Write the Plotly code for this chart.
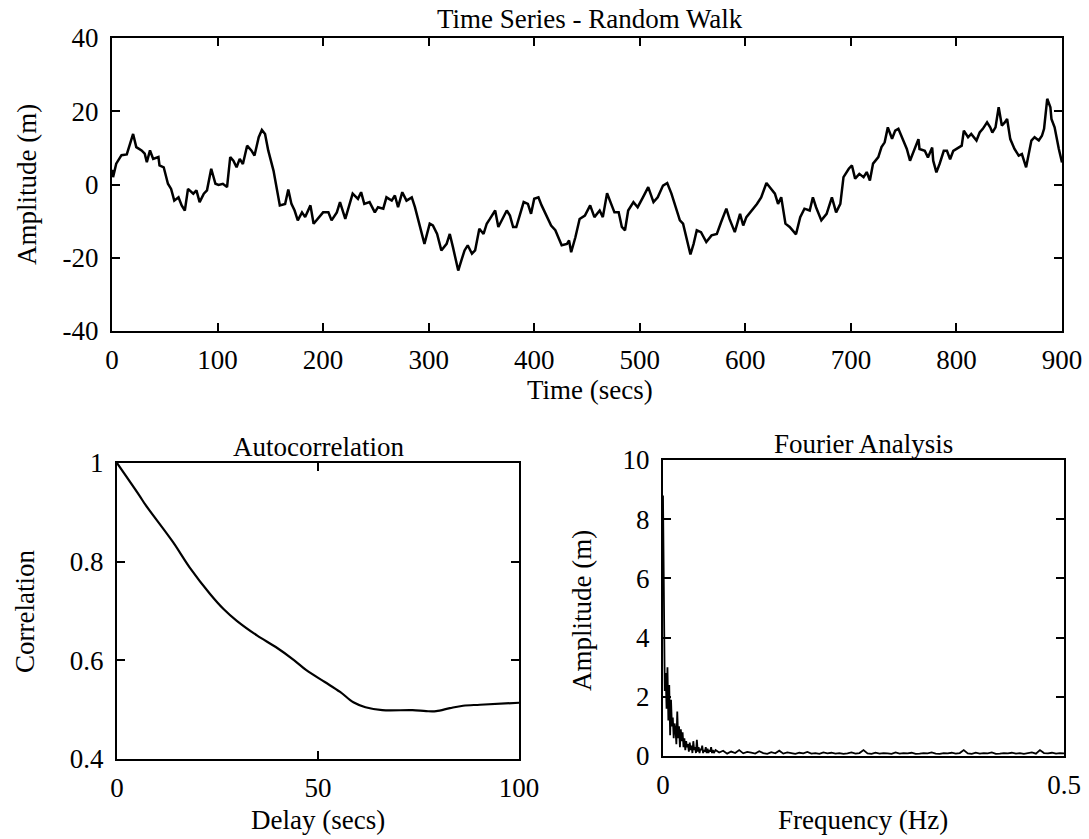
import plotly.graph_objects as go

# ---------------- data ----------------
ts_time = [0, 1, 4, 9, 14, 19, 20, 23, 28, 31, 33, 36, 39, 44, 45, 49, 53, 56, 59, 63, 66, 69, 72, 77, 80, 83, 87, 90, 94, 98,
           101, 105, 109, 112, 115, 118, 121, 124, 128, 132, 135, 139, 142, 145, 148, 153, 156, 159, 164, 167, 170, 173, 176, 180,
           183, 188, 191, 195, 200, 205, 208, 213, 216, 221, 224, 228, 233, 236, 239, 244, 249, 252, 257, 260, 265, 268, 271, 275,
           279, 284, 287, 290, 296, 301, 304, 308, 312, 317, 320, 323, 328, 331, 334, 337, 341, 344, 348, 352, 355, 358, 363, 366,
           369, 374, 377, 380, 383, 386, 390, 394, 397, 400, 404, 407, 412, 416, 420, 423, 426, 431, 433, 435, 439, 443, 448, 453,
           457, 462, 465, 469, 473, 476, 480, 483, 486, 489, 494, 498, 503, 508, 513, 517, 522, 526, 530, 535, 538, 541, 545, 548,
           551, 554, 558, 563, 568, 573, 577, 582, 585, 590, 595, 598, 601, 606, 611, 615, 620, 623, 628, 631, 634, 638, 642, 648,
           652, 656, 661, 664, 667, 672, 677, 682, 686, 690, 693, 698, 701, 704, 708, 712, 715, 718, 721, 726, 729, 732, 735, 739,
           742, 745, 749, 753, 756, 759, 764, 765, 770, 773, 777, 778, 781, 784, 788, 791, 794, 797, 802, 805, 807, 811, 814, 819,
           822, 825, 829, 832, 834, 837, 840, 843, 846, 848, 851, 855, 859, 862, 866, 868, 871, 874, 878, 881, 883, 886, 889, 890,
           893, 897, 900]
ts_amp = [4.0, 2.0, 5.7, 8.0, 8.2, 13.4, 13.8, 10.2, 9.3, 8.4, 6.1, 9.3, 7.0, 7.5, 5.2, 4.7, 0.2, -1.2, -4.4, -3.5, -5.7, -7.1,
          -1.2, -2.5, -1.6, -4.8, -2.5, -1.6, 4.3, 0.2,
          -0.1, 0.2, -0.7, 7.5, 6.5, 4.7, 7.0, 5.6, 10.6, 9.3, 7.9, 12.9, 14.9, 13.8, 9.3, 3.8, -1.6, -5.7, -5.3, -1.4, -5.3,
          -7.1, -9.8, -7.6,
          -8.9, -5.7, -10.7, -9.4, -7.6, -7.6, -9.8, -7.6, -4.8, -9.4, -6.2, -2.5, -3.9, -2.1, -5.3, -4.8, -7.6, -6.2, -6.6,
          -3.5, -4.4, -3.0, -6.2, -2.1,
          -4.4, -3.5, -6.2, -9.8, -16.2, -10.7, -11.2, -13.5, -18.0, -16.2, -13.5, -17.1, -23.5, -20.7, -18.0, -16.6, -18.9,
          -18.0, -12.1, -13.5, -10.7, -9.4, -7.1, -11.6,
          -9.8, -7.1, -8.5, -11.6, -11.6, -8.9, -4.8, -5.3, -8.0, -3.9, -3.5, -5.7, -8.9, -11.2, -12.5, -14.8, -16.6, -16.2,
          -15.3, -18.5, -14.4, -9.4, -8.5, -5.7,
          -8.9, -7.1, -8.9, -2.4, -5.3, -7.6, -7.6, -11.6, -12.5, -7.1, -4.8, -6.2, -3.5, -0.7, -4.8, -3.5, -0.3, 0.4, -2.5,
          -7.1, -9.8, -10.7, -15.3, -19.1,
          -16.2, -12.5, -13.0, -15.7, -13.9, -13.5, -10.3, -6.6, -9.4, -13.0, -8.0, -11.2, -8.9, -7.1, -5.3, -3.5, 0.4, -0.7,
          -2.5, -5.3, -3.5, -10.7, -11.6, -13.6,
          -8.9, -6.6, -7.1, -3.5, -6.2, -9.8, -8.0, -3.5, -7.6, -5.3, 2.0, 4.3, 5.2, 1.6, 2.9, 2.0, 3.4, 1.1, 5.7, 7.5, 10.2,
          11.5, 15.6, 12.5,
          14.7, 15.2, 12.5, 9.7, 6.5, 8.8, 12.4, 9.7, 9.2, 7.4, 10.1, 6.5, 3.3, 5.6, 9.2, 9.2, 6.9, 9.2, 10.1, 10.6, 14.7,
          12.9, 13.8, 12.0,
          14.2, 15.2, 17.0, 15.6, 14.2, 15.6, 21.1, 16.1, 17.0, 17.9, 12.4, 9.7, 7.9, 8.3, 4.7, 7.9, 12.0, 12.9, 12.0, 13.3,
          15.2, 23.4, 21.1, 17.9,
          15.6, 9.7, 6.0]

ac_delay = [0, 5.5, 7.1, 13.9, 18.1, 23.1, 26.5, 29.8, 34.9, 39.5, 44.1, 47.1, 51.7, 55.5, 58.8, 61.8, 66, 73.5, 76.9,
            79.4, 82.8, 86.1, 90.3, 100]
ac_corr = [1.0, 0.935, 0.915, 0.84, 0.788, 0.735, 0.704, 0.68, 0.65, 0.627, 0.6, 0.58, 0.556, 0.536, 0.515, 0.505, 0.499,
           0.499, 0.497, 0.497, 0.503, 0.508, 0.51, 0.514]

# low-frequency bins (k/900 Hz, k = 0..59)
fa_low_amp = [8.8, 4.5, 2.2, 2.8, 1.6, 3.0, 1.2, 2.4, 0.7, 1.9, 1.0, 1.3, 0.6, 1.1, 0.9, 0.4, 1.5, 0.6, 1.0, 0.3,
              0.9, 0.5, 0.8, 0.3, 0.6, 0.2, 0.5, 0.3, 0.4, 0.15, 0.45, 0.2, 0.35, 0.1, 0.5, 0.2, 0.3, 0.1, 0.55, 0.15,
              0.3, 0.1, 0.25, 0.2, 0.35, 0.1, 0.2, 0.15, 0.3, 0.1, 0.25, 0.1, 0.2, 0.15, 0.3, 0.1, 0.2, 0.1, 0.15, 0.2]
fa_low_freq = [k / 900 for k in range(len(fa_low_amp))]
# higher-frequency tail, every 0.005 Hz from 0.07
fa_tail_amp = [0.12, 0.18, 0.08, 0.15, 0.1, 0.2, 0.09, 0.14, 0.11, 0.08, 0.16, 0.1, 0.07, 0.13, 0.09, 0.18, 0.08, 0.12,
               0.1, 0.07, 0.11, 0.09, 0.14, 0.08, 0.1, 0.07, 0.12, 0.09, 0.11, 0.08, 0.1, 0.07, 0.09, 0.12, 0.08, 0.1,
               0.2, 0.09, 0.07, 0.11, 0.08, 0.1, 0.09, 0.07, 0.12, 0.08, 0.1, 0.09, 0.11, 0.07, 0.08, 0.1, 0.09, 0.12,
               0.08, 0.07, 0.1, 0.09, 0.11, 0.08, 0.1, 0.2, 0.09, 0.07, 0.11, 0.08, 0.1, 0.09, 0.12, 0.07, 0.08, 0.1,
               0.09, 0.11, 0.08, 0.1, 0.07, 0.09, 0.12, 0.08, 0.2, 0.1, 0.09, 0.11, 0.08, 0.1, 0.09]
fa_tail_freq = [0.07 + 0.005 * i for i in range(len(fa_tail_amp))]
fa_freq = fa_low_freq + fa_tail_freq
fa_amp = fa_low_amp + fa_tail_amp

# ---------------- figure ----------------
W, H = 1089, 839
FONT = "Liberation Serif, Times New Roman, serif"
FS = 27


def px(x):
    return x / W


def py(y):
    return 1 - y / H


fig = go.Figure()
fig.add_trace(go.Scatter(x=ts_time, y=ts_amp, mode="lines", line=dict(color="black", width=2.5),
                         xaxis="x", yaxis="y", showlegend=False))
fig.add_trace(go.Scatter(x=ac_delay, y=ac_corr, mode="lines", line=dict(color="black", width=2.2, shape="spline"),
                         xaxis="x2", yaxis="y2", showlegend=False))
fig.add_trace(go.Scatter(x=fa_freq, y=fa_amp, mode="lines", line=dict(color="black", width=1.8),
                         xaxis="x3", yaxis="y3", showlegend=False))

ax_common = dict(showline=True, mirror="ticks", linecolor="black", linewidth=2, ticks="inside", ticklen=8,
                 tickwidth=2, tickcolor="black", showgrid=False, zeroline=False, automargin=False,
                 tickfont=dict(family=FONT, size=FS, color="black"))

fig.update_layout(
    width=W, height=H, margin=dict(l=0, r=0, t=0, b=0, pad=0, autoexpand=False),
    paper_bgcolor="white", plot_bgcolor="white",
    font=dict(family=FONT, size=FS, color="black"),
    xaxis=dict(domain=[px(112), px(1062)], range=[0, 900], tickvals=list(range(0, 901, 100)),
               anchor="y", ticklabelstandoff=4, **ax_common),
    yaxis=dict(domain=[py(331), py(38)], range=[-40, 40], tickvals=[-40, -20, 0, 20, 40],
               ticktext=["-40", "-20", "0", "20", "40"], anchor="x", ticklabelstandoff=6, **ax_common),
    xaxis2=dict(domain=[px(117), px(519)], range=[0, 100], tickvals=[0, 50, 100],
                anchor="y2", ticklabelstandoff=4, **ax_common),
    yaxis2=dict(domain=[py(759), py(463)], range=[0.4, 1.0], tickvals=[0.4, 0.6, 0.8, 1.0],
                ticktext=["0.4", "0.6", "0.8", "1"], anchor="x2", ticklabelstandoff=6, **ax_common),
    xaxis3=dict(domain=[px(663), px(1064)], range=[0, 0.5], tickvals=[0, 0.5], ticktext=["0", "0.5"],
                anchor="y3", ticklabelstandoff=4, **ax_common),
    yaxis3=dict(domain=[py(756), py(460)], range=[0, 10], tickvals=[0, 2, 4, 6, 8, 10],
                anchor="x3", ticklabelstandoff=6, **ax_common),
)

ann = [
    ("Time Series - Random Walk", 590, 19, 0),
    ("Time (secs)", 590, 390, 0),
    ("Amplitude (m)", 27, 185, -90),
    ("Autocorrelation", 318, 447, 0),
    ("Delay (secs)", 318, 820, 0),
    ("Correlation", 25, 612, -90),
    ("Fourier Analysis", 863, 444, 0),
    ("Frequency (Hz)", 863, 820, 0),
    ("Amplitude (m)", 582, 611, -90),
]
for text, x, y, rot in ann:
    fig.add_annotation(text=text, x=px(x), y=py(y), xref="paper", yref="paper", xanchor="center",
                       yanchor="middle", showarrow=False, textangle=rot,
                       font=dict(family=FONT, size=FS, color="black"))

fig.write_html("out.html", config={"displayModeBar": False},
               post_script="document.documentElement.style.margin='0';document.body.style.margin='0';"
                           "document.body.style.padding='0';document.body.style.overflow='hidden';")
